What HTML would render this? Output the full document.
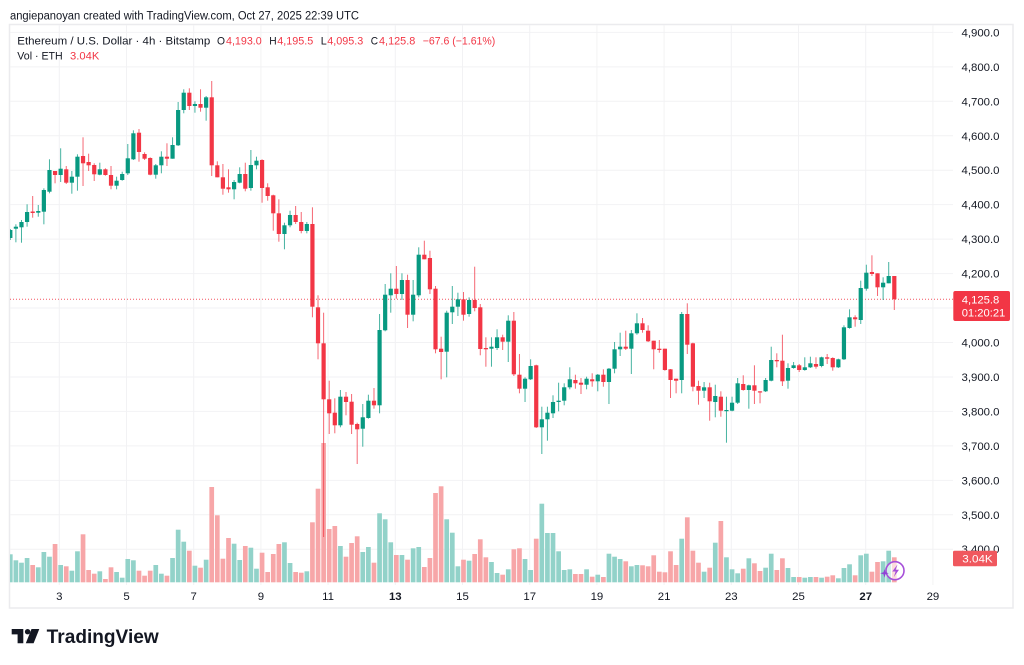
<!DOCTYPE html>
<html><head><meta charset="utf-8"><style>
html,body{margin:0;padding:0;background:#fff;}
body{width:1024px;height:665px;overflow:hidden;}
svg{display:block;font-family:"Liberation Sans",sans-serif;}
</style></head><body>
<svg id="s" width="1024" height="665" viewBox="0 0 1024 665" xmlns="http://www.w3.org/2000/svg">
<defs><clipPath id="pc"><rect x="10" y="25" width="943" height="558"/></clipPath></defs>
<rect x="0" y="0" width="1024" height="665" fill="#fff"/>
<text x="10" y="19.3" font-size="11.5" fill="#131722" textLength="349" lengthAdjust="spacingAndGlyphs">angiepanoyan created with TradingView.com, Oct 27, 2025 22:39 UTC</text>
<rect x="9.5" y="24.5" width="1003.5" height="583.5" fill="none" stroke="#ebebee" stroke-width="1.5"/>
<g id="grid" stroke="#f2f2f4" stroke-width="1"></g>
<g id="vol" clip-path="url(#pc)"></g>
<line x1="10" y1="299.2" x2="953" y2="299.2" stroke="#f23645" stroke-width="1" stroke-dasharray="1 2" opacity="0.85"/>
<g id="cdl" clip-path="url(#pc)"></g>
<!-- legend -->
<g font-size="10.8" fill="#131722">
<text x="17.3" y="44.3" textLength="193" lengthAdjust="spacingAndGlyphs">Ethereum / U.S. Dollar · 4h · Bitstamp</text>
<text x="217" y="44.3" textLength="8" lengthAdjust="spacingAndGlyphs">O</text>
<text x="226" y="44.3" fill="#f23645" textLength="35.7" lengthAdjust="spacingAndGlyphs">4,193.0</text>
<text x="269.3" y="44.3" textLength="7.4" lengthAdjust="spacingAndGlyphs">H</text>
<text x="277.3" y="44.3" fill="#f23645" textLength="36" lengthAdjust="spacingAndGlyphs">4,195.5</text>
<text x="320.7" y="44.3" textLength="6" lengthAdjust="spacingAndGlyphs">L</text>
<text x="327.3" y="44.3" fill="#f23645" textLength="36" lengthAdjust="spacingAndGlyphs">4,095.3</text>
<text x="370.7" y="44.3" textLength="7.3" lengthAdjust="spacingAndGlyphs">C</text>
<text x="379" y="44.3" fill="#f23645" textLength="36.3" lengthAdjust="spacingAndGlyphs">4,125.8</text>
<text x="422.7" y="44.3" fill="#f23645" textLength="72.6" lengthAdjust="spacingAndGlyphs">−67.6 (−1.61%)</text>
<text x="17.3" y="59.3" textLength="45.4" lengthAdjust="spacingAndGlyphs">Vol · ETH</text>
<text x="70" y="59.3" fill="#f23645" textLength="29.3" lengthAdjust="spacingAndGlyphs">3.04K</text>
</g>
<!-- price axis -->
<g font-size="11.4" fill="#131722" text-anchor="end">
<text x="999.5" y="36.4">4,900.0</text>
<text x="999.5" y="70.9">4,800.0</text>
<text x="999.5" y="105.3">4,700.0</text>
<text x="999.5" y="139.8">4,600.0</text>
<text x="999.5" y="174.2">4,500.0</text>
<text x="999.5" y="208.7">4,400.0</text>
<text x="999.5" y="243.1">4,300.0</text>
<text x="999.5" y="277.6">4,200.0</text>
<text x="999.5" y="346.5">4,000.0</text>
<text x="999.5" y="381">3,900.0</text>
<text x="999.5" y="415.4">3,800.0</text>
<text x="999.5" y="449.9">3,700.0</text>
<text x="999.5" y="484.3">3,600.0</text>
<text x="999.5" y="518.8">3,500.0</text>
<text x="999.5" y="553.2">3,400.0</text>
</g>
<rect x="953.3" y="291" width="56.7" height="30" rx="2" fill="#f23645"/>
<text x="961.7" y="303.3" font-size="11.4" fill="#fff" textLength="37.6" lengthAdjust="spacingAndGlyphs">4,125.8</text>
<text x="961.7" y="316.6" font-size="11.4" fill="#fff" textLength="43.6" lengthAdjust="spacingAndGlyphs">01:20:21</text>
<rect x="953" y="550.7" width="44" height="15.6" rx="1.5" fill="#f0585e"/>
<text x="962.3" y="562.3" font-size="11.4" fill="#fff" textLength="30.4" lengthAdjust="spacingAndGlyphs">3.04K</text>
<!-- time axis -->
<g font-size="11.4" fill="#131722" text-anchor="middle">
<text x="59.3" y="600">3</text>
<text x="126.5" y="600">5</text>
<text x="193.7" y="600">7</text>
<text x="260.9" y="600">9</text>
<text x="328.1" y="600">11</text>
<text x="395.3" y="600" font-weight="bold">13</text>
<text x="462.5" y="600">15</text>
<text x="529.7" y="600">17</text>
<text x="596.9" y="600">19</text>
<text x="664.1" y="600">21</text>
<text x="731.3" y="600">23</text>
<text x="798.5" y="600">25</text>
<text x="865.7" y="600" font-weight="bold">27</text>
<text x="932.9" y="600">29</text>
</g>
<!-- purple icon -->
<g>
<circle cx="895" cy="570.7" r="9" fill="#ffffff" fill-opacity="0.6" stroke="#a64fd9" stroke-width="1.6"/>
<path d="M897.5 564.5 L892.3 571.5 H895.6 L893.8 577 L899 569.8 H895.7 Z" fill="#a64fd9"/>
<path d="M884.5 569 L885.5 572.3 L888.8 573.3 L885.5 574.3 L884.5 577.6 L883.5 574.3 L880.2 573.3 L883.5 572.3 Z" fill="#8e44d6"/>
</g>
<!-- logo -->
<g fill="#131722">
<path d="M11.7 629 H23.3 V643.3 H17.6 V634.4 H11.7 Z"/>
<circle cx="27.6" cy="631.7" r="2.7"/>
<path d="M31.5 629 H39.3 L33.6 643.3 H25.8 Z"/>
<text x="46.7" y="643" font-size="19" font-weight="bold" textLength="112" lengthAdjust="spacingAndGlyphs">TradingView</text>
</g>
</svg>
<script>
(function(){
var NS="http://www.w3.org/2000/svg";
function el(p,t,a){var e=document.createElementNS(NS,t);for(var k in a)e.setAttribute(k,a[k]);p.appendChild(e);return e;}
var grid=document.getElementById('grid');
for(var p=3400;p<=4900;p+=100){var y=342.5-(p-4000)*0.3446;el(grid,'line',{x1:10,x2:953,y1:y,y2:y});}
for(var d=3;d<=29;d+=2){var x=59.3+33.6*(d-3);el(grid,'line',{x1:x,x2:x,y1:25,y2:585});}
var C=[
[1,230,238,229,240],[1,226.7,228.7,224.3,242.3],[1,222,227.3,220,242.7],[1,212,222,204.3,226.7],[0,211.5,213,196,217.7],
[1,211,212.7,205,216.7],[1,190,211.7,188.3,224.3],[1,170,191.7,159.3,193.3],[0,171,175,171,183.3],[1,168.7,175,148.3,182],
[0,169.3,182.7,166,184],[1,176.7,182.7,171,193.7],[1,156.7,176.7,154.3,190.7],[0,156,163.3,137.3,186],[0,162,165.3,153.7,171],
[0,165,174.3,163.3,181],[1,169.3,174.7,162.7,175.3],[0,169.3,175,168.3,175.7],[0,175,185.7,166,189.3],[1,180.7,185.7,176.7,189.3],
[1,174,180,171.7,180.7],[1,158.3,173.3,144,175],[1,133.3,159.3,130.3,160],[0,132.7,152,129,161.7],[0,154,158.7,152.3,160],
[0,158,174.7,157.3,175.3],[1,165.3,174.7,164,178.7],[1,156.7,165.3,151.3,173.3],[0,156.7,158.7,143.3,166],[1,145,158.7,137.3,158.7],
[1,110,145.3,102,146],[1,92.7,110,89.3,113.3],[0,92.7,106,88.3,110],[1,104,106,101.3,112.7],[0,104,107.7,89.3,111.7],
[1,97.3,107.7,96,120.7],[0,97.3,165.3,81,176],[0,165.3,177.3,161.3,177.3],[0,177.3,188.7,164,194.7],[0,187.3,189.3,169.3,192.7],
[1,182,189.3,180,199.3],[1,174,182.7,167.3,183.3],[0,174,188.7,162.7,191.3],[1,165,188,150,190.7],[1,160.7,165.3,156.7,169.3],
[0,160,188,159.3,202.7],[0,187.3,196,183.3,200.7],[0,195.3,213.3,194.7,230.7],[0,213.3,234,199.3,241.7],[1,225.3,234,222.7,249.3],
[1,215,225.3,210.7,227.3],[0,215,222,206,224],[0,222,231,212,233.3],[1,224,231,222,233.3],[0,224,306.7,207.3,317.3],
[0,307.3,343.3,295.3,359.3],[0,343.3,399.3,312.7,537],[0,399.3,413.3,380.7,434],[0,412.7,425.3,398.3,433.3],[1,396.7,425.3,390,427.3],
[0,396.7,402,392,415.3],[0,401.7,424.7,394,434],[0,424,429.3,422.7,464],[1,417.3,428.7,404,446.7],[1,400.7,418,394.7,418.7],
[0,400.7,405.3,388,408.7],[1,330,405.3,314,413.3],[1,294.7,330.3,284,331.3],[1,288.7,295.3,273.3,312.7],[0,288.7,294,266,298.7],
[1,280,294,273.3,300],[0,280,314.7,274.7,328],[1,294.7,314.7,280,321.3],[1,254.7,295.3,247.3,297.3],[0,254.7,259.3,240.7,259.3],
[0,258,289.3,250.7,294],[0,288.7,349.3,286,353.3],[0,348.7,352,336.7,379.3],[1,312.7,351.7,310.7,377.3],[1,306.7,312.3,286,324],
[1,299.3,306.7,292.7,316],[0,299.3,314.7,292,320.7],[1,300,314,297.3,316.7],[0,300,308,266.7,311.3],[0,307.3,349,304,355.3],
[0,348,349.3,337.3,366.7],[1,346.7,348.7,337.3,366.7],[1,337.3,348,329.3,350],[0,337.3,341.7,334.7,350],[1,320.7,341.7,315.3,362],
[0,320.7,374.3,312,376],[0,374.7,388.7,354,393.3],[1,378.7,388.7,377.3,402],[1,366,379.3,359.3,380],[0,365.3,427.3,364.7,428],
[1,419.3,427.3,406.7,454],[1,412.7,419.3,406.7,440.7],[1,402,413.3,395.3,418],[1,400.7,402,382.7,411.3],[1,387.3,400.7,383.3,405.3],
[1,379.3,387.3,367.3,389.3],[0,380,383.3,374.7,388.7],[0,382.7,384.7,378,394],[1,378.7,384.7,376.7,389.3],[0,379.3,381.3,373.3,386.7],
[1,374.7,381.3,374,391.3],[0,374.7,382,369.3,386.7],[1,368.7,382,368,404],[1,349.3,368.7,342,373.3],[1,346.7,349.3,332.7,356],
[0,346.7,348.7,330.7,350],[1,333.3,348.7,330,374],[1,323.3,333.3,313.3,334.7],[0,323.3,330,318,332.7],[0,330.7,341.3,325.3,342],
[0,340.7,349.3,340.7,369.3],[0,348.7,350,340,352.7],[0,348.7,370,348.7,370.7],[0,369.3,380,369,398],[0,378.7,380.7,378.7,393.3],
[1,314,380,312,393.3],[0,314,344.7,303.3,354],[0,343.3,386.7,342.7,391.3],[0,386,390.7,380.7,404.7],[1,387.3,390.7,382,398],
[0,387.3,401.3,382.7,420.7],[1,396,402,384.7,417.3],[0,396.7,410.7,391.3,416.7],[1,410,411,396.7,442.7],[1,402.7,410.7,396.7,411.3],
[1,383.3,402.7,378,404],[0,384,390,375.3,390.7],[1,385.3,390,384.7,408.7],[0,385.3,390.7,365.3,404],[0,391.3,392.3,391.3,403.3],
[1,380,391.3,378,392],[1,360,380.7,346.7,381.3],[0,360,361.3,353.3,367.3],[0,360.7,381.3,334.7,386],[1,368,380.7,363.3,388.7],
[1,365.3,368,362,368.7],[0,365.3,370,364,372],[1,367.3,370,357.3,370.7],[1,363.3,367.3,356.7,368],[0,364,366.7,357.3,368.7],
[1,357.3,366,356.7,367.3],[0,357.3,358.7,354,364],[0,358,367.3,357.3,370.7],[1,359.3,367.3,358.7,368],[1,327.3,359.3,325.3,360],
[1,317.3,328,309.3,328.7],[0,317.3,319.3,315.3,326.7],[1,288,320,280.7,324],[1,272.7,288.7,264.7,290.7],[0,272,274,255.3,276],
[0,273.3,287.3,273.3,296],[1,282.7,287.3,277.3,300],[1,276,283.3,262,283.3],[0,276,299.2,276,310]
];
var V=[554.3,560.3,562.7,558,565,567.3,552,556.7,544,565,566.3,570.7,551.3,534.3,570,573.7,571.3,579,567.3,572,
577.7,559,560.3,570.7,575.7,570.7,565,573.7,575.7,558,529.7,541.7,550.7,565.7,567.7,559.7,487,515.3,558.7,538,
543.7,560,546,547.7,568.7,552.7,572,554,544,542.3,563,572,572.7,571.3,522.3,488.7,443,529,526,546,
556.7,543,536.3,552,547,562.7,513.3,519.3,542.3,555,555,559.7,548.3,547,567,558,493,486.3,519.3,532.7,
566.3,559.7,560.7,554,539.3,557.3,562,573,574.7,569.3,549.3,548.3,559,570,538.7,503.7,533,533,551.3,570,
569.3,574,574,569.3,576.7,574.7,577,553.7,556.7,559,561.3,566.3,565,565.3,566.3,555.3,571.7,572.3,551.3,565,
538.7,517.3,550.7,562.7,571.7,567.7,542.7,521,557.3,569.3,573.3,568.7,558.3,563.3,571,567.7,553.7,570,558.3,568,
577,577,577.7,577,577,577.7,576.7,575.3,578.3,568,564.3,575.3,555.3,553.7,571.7,562,561.3,550.7,557.3];
var vol=document.getElementById('vol'),cdl=document.getElementById('cdl');
var base=582.3;
for(var i=0;i<C.length;i++){
  var x=10.3+i*5.595,c=C[i],g=c[0]===1;
  var col=g?'#089981':'#f23645';
  var vt=V[i]!==undefined?V[i]:570;
  el(vol,'rect',{x:(x-2.35).toFixed(2),y:vt,width:4.7,height:(base-vt).toFixed(2),fill:g?'#92d2c9':'#f7a6a8'});
  el(cdl,'rect',{x:(x-0.5).toFixed(2),y:c[3],width:1,height:(c[4]-c[3]).toFixed(2),fill:col,'fill-opacity':0.75});
  var h=Math.max(c[2]-c[1],1.2);
  el(cdl,'rect',{x:(x-2.1).toFixed(2),y:c[1],width:4.2,height:h.toFixed(2),fill:col});
}
})();
</script>
</body></html>
